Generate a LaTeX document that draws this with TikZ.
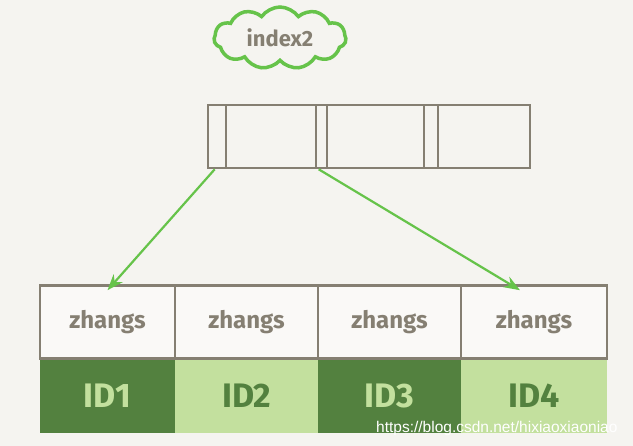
\documentclass[tikz,border=0pt]{standalone}
\usepackage{fontspec}
\setmainfont{Fira Sans}
\setsansfont{Liberation Sans}
\usetikzlibrary{shapes.symbols,arrows.meta}

\definecolor{paper}{HTML}{F5F4F0}
\definecolor{ink}{HTML}{857F72}
\definecolor{leaf}{HTML}{66C34A}
\definecolor{darkid}{HTML}{53813F}
\definecolor{lightid}{HTML}{C3E09E}

\tikzset{
	cloudbox/.style = {cloud, cloud puffs=11, cloud puff arc=110, aspect=2.1, draw=leaf, line width=3.5pt,
		inner sep=0pt, minimum width=132pt, minimum height=62pt, text=ink, font=\bfseries\fontsize{22}{22}\selectfont},
	pagebox/.style = {draw=ink, line width=2.6pt, inner sep=0pt},
	keybox/.style = {draw=ink, line width=2.6pt, fill=white!45!paper, inner sep=0pt, minimum height=73pt,
		text=ink, font=\bfseries\fontsize{24}{24}\selectfont},
	idbox/.style = {inner sep=0pt, minimum height=74pt, font=\bfseries\fontsize{34}{34}\selectfont},
	link/.style = {draw=leaf, line width=2.2pt, -{Stealth[length=16pt,width=12pt]}}
}

\begin{document}
\begin{tikzpicture}[x=1pt,y=-1pt]
			\fill[paper] (0,0) rectangle (633,446);
			\useasboundingbox (0,0) rectangle (633,446);
			
			\node[cloudbox] (idx) at (280,38) {index2};
			
			\node[pagebox, minimum width=322pt, minimum height=63pt] (page) at (369,136.5) {};
			\foreach \x in {226,316,327,424,438}
				\draw[ink, line width=2.6pt] (\x,105) -- (\x,168);
			
			\foreach \l/\r/\n/\c/\t in {40/175/1/darkid/lightid, 175/318/2/lightid/darkid,
				318/461/3/darkid/lightid, 461/607/4/lightid/darkid}
			{
				\node[keybox, minimum width=\r-\l] (z\n) at ({(\l+\r)/2},322) {zhangs};
				\node[idbox, fill=\c, text=\t, minimum width=\r-\l] (id\n) at ({(\l+\r)/2},396) {ID\n};
			}
			\draw[ink, line width=2.6pt] (40,285) rectangle (607,359);
			
			\draw[link] ([xshift=8pt]page.south west) -- ([xshift=0pt,yshift=-6pt]z1.north);
			\draw[link] ([xshift=112pt]page.south west) -- ([xshift=-14pt,yshift=-6pt]z4.north);
			
			\node[text=white, font=\sffamily\fontsize{15.5}{15.5}\selectfont, anchor=east] (mark) at (621,428) {https://blog.csdn.net/hixiaoxiaoniao};
\end{tikzpicture}
\end{document}
